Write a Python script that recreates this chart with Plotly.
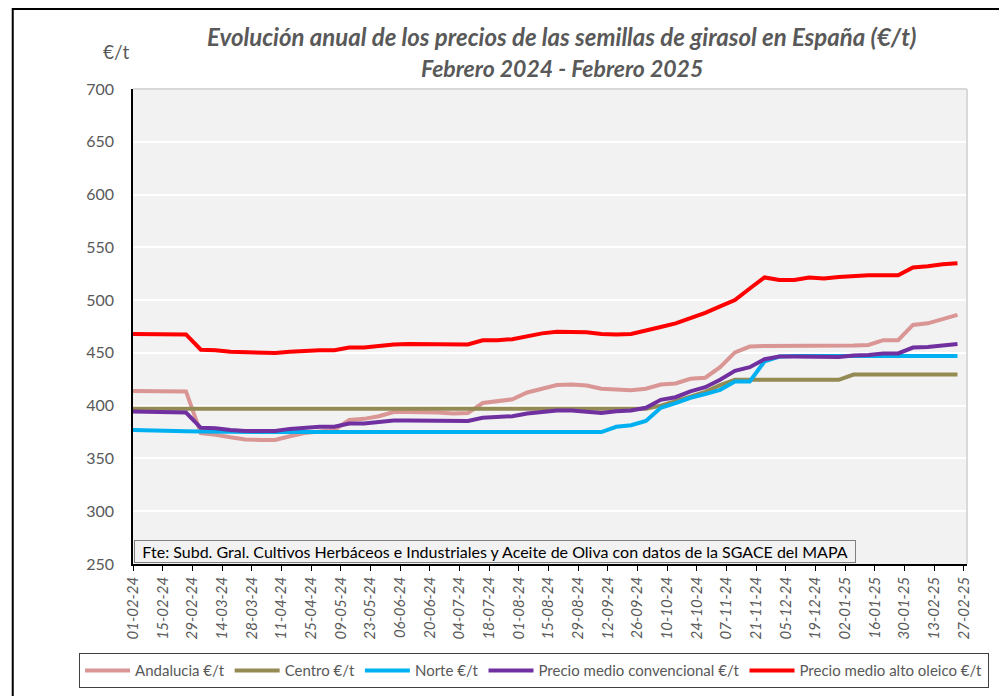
import pandas as pd
import plotly.graph_objects as go

# weekly prices (Monday quotes), first one falls just before the axis start
semanas = pd.date_range("2024-01-29", periods=57, freq="7D")

andalucia = [414, 414, 413.5, 413.5, 413.5, 374, 372.5, 370, 368, 367.5,
             367.5, 371, 374, 375.5, 377, 386.5, 387.5, 390, 394, 394,
             394, 393.5, 392.5, 393, 402.5, 404, 406, 412.5, 416, 419.5,
             420, 419, 416, 415, 414.5, 416, 420, 421, 425.5, 426.5,
             436.5, 450.5, 456, 456.5, 456.5, 456.5, 456.5, 456.5, 457, 457,
             457.5, 462, 462, 476.5, 478, 482, 486]

centro = [397] * 36 + [400, 404, 408.5, 413, 419.5] + [424.5] * 8 + [429.5] * 8

norte = [377, 376.5, 376.2, 376, 375.8, 375.5, 375.2] + [375] * 26 + \
        [380, 381.5, 385.5, 398, 402.5, 407.5, 411, 415, 423, 423, 442, 446.5] + [447] * 12

convencional = [394.5, 394.3, 394, 393.8, 393.5, 379, 378.5, 377, 376, 376,
                376, 378, 379, 380, 380, 383, 383.2, 384.7, 386, 386,
                386, 386, 385.5, 385.5, 388.5, 389.5, 390, 392.5, 394, 395.5,
                395.5, 394.7, 393, 394.7, 395.5, 398, 405.5, 408, 413.5, 417.5,
                424.5, 433, 436.5, 444, 446.5, 446.5, 446.5, 446.5, 446, 447.5,
                448, 449.5, 449.5, 455, 455.5, 457, 458.5]

alto_oleico = [468, 468, 468, 467.5, 467.5, 453, 452.5, 451, 450.5, 450,
               450, 451, 452, 452.5, 452.5, 455, 455, 456.5, 458, 458.5,
               458.5, 458.5, 458, 458, 462, 462, 463, 466, 468.5, 470,
               470, 469.5, 468, 467.5, 468, 471, 474.5, 478, 482.5, 488,
               494, 500, 511, 521.5, 519, 519, 521.5, 520.5, 522, 523,
               523.5, 523.5, 523.5, 531, 532, 534, 535]

series = [
    ("Andalucia €/t", andalucia, "#D99694"),
    ("Centro €/t", centro, "#948A54"),
    ("Norte €/t", norte, "#00B0F0"),
    ("Precio medio convencional €/t", convencional, "#7030A0"),
    ("Precio medio alto oleico €/t", alto_oleico, "#FF0000"),
]

FONT = "Lato"
GRIS = "#595959"

fig = go.Figure()
for nombre, valores, color in series:
    fig.add_trace(go.Scatter(x=semanas, y=valores, name=nombre, mode="lines",
                             line=dict(color=color, width=4)))

# the page puts the figure 8px in from the corner, margins take that into account
fig.update_layout(
    autosize=False, width=1007, height=696,
    margin=dict(l=125, r=48, t=81, b=140),
    paper_bgcolor="white", plot_bgcolor="#F2F2F2",
    font=dict(family=FONT, color=GRIS, size=15),
    showlegend=True,
    legend=dict(orientation="h", x=-0.0647, y=-0.188, xanchor="left", yanchor="top",
                bordercolor="#404040", borderwidth=1, bgcolor="white",
                font=dict(family=FONT, size=15, color=GRIS),
                itemwidth=45, tracegroupgap=0),
)

fig.update_xaxes(
    type="date", range=["2024-02-01", "2025-02-28 12:00"],
    tick0="2024-02-01", dtick=14 * 86400000, tickformat="%d-%m-%y",
    tickangle=-90, ticks="outside", ticklen=5, tickcolor="black",
    showline=True, linecolor="black", linewidth=1.5, showgrid=False,
    tickfont=dict(family=FONT, size=15, color=GRIS, style="italic"),
)
fig.update_yaxes(
    range=[250, 700], dtick=50, showline=True, linecolor="black", linewidth=1.5,
    gridcolor="white", gridwidth=2, zeroline=False, ticks="",
    ticklabelstandoff=14,
    tickfont=dict(family=FONT, size=16, color=GRIS),
)

# top and right border of the plot area
fig.add_shape(type="line", xref="paper", yref="paper", x0=0, x1=1, y0=1, y1=1,
              line=dict(color="#D9D9D9", width=2))
fig.add_shape(type="line", xref="paper", yref="paper", x0=1, x1=1, y0=0, y1=1,
              line=dict(color="#D9D9D9", width=2))
# chart frame
fig.add_shape(type="rect", xref="paper", yref="paper", x0=-0.1442, x1=1.2, y0=-0.4, y1=1.1684,
              line=dict(color="black", width=2))

fig.add_annotation(text="<b><i>Evolución anual de los precios de las semillas de girasol en España (€/t)</i></b>",
                   xref="paper", yref="paper", x=0.514, y=1.1115, xanchor="center", yanchor="middle",
                   showarrow=False, font=dict(family=FONT, size=24, color=GRIS))
fig.add_annotation(text="<b><i>Febrero 2024 - Febrero 2025</i></b>",
                   xref="paper", yref="paper", x=0.514, y=1.044, xanchor="center", yanchor="middle",
                   showarrow=False, font=dict(family=FONT, size=23, color=GRIS))
fig.add_annotation(text="€/t", xref="paper", yref="paper", x=-0.0198, y=1.078,
                   xanchor="center", yanchor="middle",
                   showarrow=False, font=dict(family=FONT, size=19, color=GRIS))
fig.add_annotation(text="Fte: Subd. Gral. Cultivos Herbáceos e Industriales y Aceite de Oliva con datos de la SGACE del MAPA",
                   xref="paper", yref="paper", x=0.001, y=0.002, xanchor="left", yanchor="bottom",
                   width=718, align="center",
                   showarrow=False, font=dict(family=FONT, size=16, color="black"),
                   bordercolor="#7F7F7F", borderwidth=1, borderpad=1, bgcolor="#F2F2F2")

fig.write_html("out.html")
